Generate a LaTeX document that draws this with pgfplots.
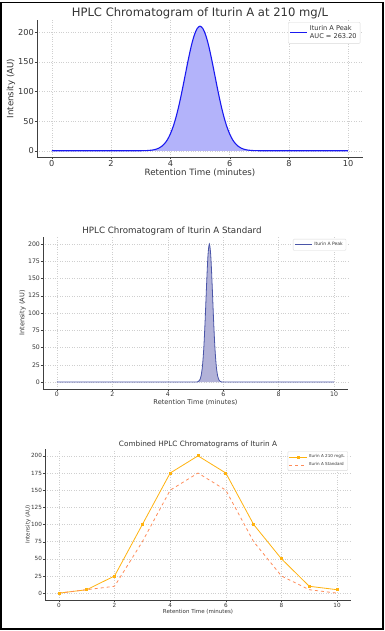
\documentclass[border=0pt]{standalone}
\usepackage{pgfplots}
\pgfplotsset{compat=1.18}
\usepackage{fontspec}
\setmainfont{DejaVu Sans}
\definecolor{gridc}{HTML}{CFCFCF}
\definecolor{txt}{HTML}{333333}
\definecolor{p1line}{HTML}{1A1AF0}
\definecolor{p1fill}{HTML}{B3B3FA}
\definecolor{p2line}{HTML}{4A55A8}
\definecolor{p2fill}{HTML}{B2B2D8}
\definecolor{s1}{HTML}{FFB20F}
\definecolor{s2}{HTML}{FF8C5A}
\pgfplotsset{
  every axis title shift=0pt,
  mpl/.style={
    scale only axis,
    axis lines=left,
    axis line style={-, draw=black!75},
    tick align=outside,
    major tick length=2.2pt,
    tick style={black!75},
    grid=major,
    major grid style={dotted, gridc},
    /pgf/number format/assume math mode=true,
    xmin=-0.5, xmax=10.5,
    xtick={0,2,4,6,8,10},
    ticklabel style={text=txt, inner sep=0.7pt},
    label style={text=txt},
    title style={text=txt},
    legend cell align=left,
    legend style={draw=black!15, fill=white, rounded corners=1pt, text=txt},
  }
}
\begin{document}
\begin{tikzpicture}[x=1pt,y=1pt]
\useasboundingbox (0,0) rectangle (384,631);
\draw[line width=1.2pt] (1,2) rectangle (383,628.5);

% ---------------- Panel 1 ----------------
\begin{axis}[mpl,
  at={(37pt,474pt)}, anchor=south west,
  width=326pt, height=137pt,
  ymin=-10.5, ymax=220.5,
  ytick={0,50,100,150,200},
  ticklabel style={font=\fontsize{8.2}{9}\selectfont},
  xlabel={Retention Time (minutes)},
  ylabel={Intensity (AU)},
  label style={font=\fontsize{8.7}{9.5}\selectfont},
  xlabel style={at={(axis description cs:0.5,-0.112)}, anchor=center},
  ylabel style={at={(axis description cs:-0.080,0.5)}, anchor=center},
  title={HPLC Chromatogram of Iturin A at 210 mg/L},
  title style={font=\fontsize{11.6}{13}\selectfont, at={(axis description cs:0.5,1.051)}, anchor=center},
  legend style={at={(0.992,0.985)}, anchor=north east, font=\fontsize{6.6}{7.6}\selectfont, cells={align=left}, inner sep=1.5pt},
]
\addplot[draw=none, fill=p1fill, forget plot] table {
x y
3.0 0.07
3.1 0.15
3.2 0.32
3.3 0.65
3.4 1.25
3.5 2.33
3.6 4.17
3.7 7.15
3.8 11.79
3.9 18.67
4.0 28.42
4.1 41.56
4.2 58.39
4.3 78.82
4.4 102.22
4.5 127.37
4.6 152.49
4.7 175.41
4.8 193.86
4.9 205.84
5.0 210.00
5.1 205.84
5.2 193.86
5.3 175.41
5.4 152.49
5.5 127.37
5.6 102.22
5.7 78.82
5.8 58.39
5.9 41.56
6.0 28.42
6.1 18.67
6.2 11.79
6.3 7.15
6.4 4.17
6.5 2.33
6.6 1.25
6.7 0.65
6.8 0.32
6.9 0.15
7.0 0.07
} \closedcycle;
\addplot[p1line, line width=1.1pt, smooth] table {
x y
0 0
1 0
2 0
2.9 0.03
3.0 0.07
3.1 0.15
3.2 0.32
3.3 0.65
3.4 1.25
3.5 2.33
3.6 4.17
3.7 7.15
3.8 11.79
3.9 18.67
4.0 28.42
4.1 41.56
4.2 58.39
4.3 78.82
4.4 102.22
4.5 127.37
4.6 152.49
4.7 175.41
4.8 193.86
4.9 205.84
5.0 210.00
5.1 205.84
5.2 193.86
5.3 175.41
5.4 152.49
5.5 127.37
5.6 102.22
5.7 78.82
5.8 58.39
5.9 41.56
6.0 28.42
6.1 18.67
6.2 11.79
6.3 7.15
6.4 4.17
6.5 2.33
6.6 1.25
6.7 0.65
6.8 0.32
6.9 0.15
7.0 0.07
7.1 0.03
8 0
9 0
10 0
};
\addlegendentry{Iturin A Peak\\AUC = 263.20}
\end{axis}

% ---------------- Panel 2 ----------------
\begin{axis}[mpl,
  at={(43pt,242pt)}, anchor=south west,
  width=305pt, height=152pt,
  ymin=-10, ymax=210,
  ytick={0,25,50,75,100,125,150,175,200},
  ticklabel style={font=\fontsize{6.2}{7}\selectfont},
  xlabel={Retention Time (minutes)},
  ylabel={Intensity (AU)},
  label style={font=\fontsize{6.6}{7.5}\selectfont},
  xlabel style={at={(axis description cs:0.5,-0.088)}, anchor=center},
  ylabel style={at={(axis description cs:-0.067,0.5)}, anchor=center},
  title={HPLC Chromatogram of Iturin A Standard},
  title style={font=\fontsize{8.7}{10}\selectfont, at={(axis description cs:0.423,1.040)}, anchor=center},
  legend style={at={(0.994,0.987)}, anchor=north east, font=\fontsize{4.5}{5.5}\selectfont, inner sep=1.2pt},
]
\addplot[draw=none, fill=p2fill, forget plot] table {
x y
5.0 0.03
5.05 0.18
5.1 0.77
5.15 2.84
5.2 8.79
5.25 22.8
5.3 49.9
5.35 91.6
5.4 141.3
5.45 183.4
5.5 200
5.55 183.4
5.6 141.3
5.65 91.6
5.7 49.9
5.75 22.8
5.8 8.79
5.85 2.84
5.9 0.77
5.95 0.18
6.0 0.03
} \closedcycle;
\addplot[p2line, line width=0.8pt, smooth] table {
x y
0 0
2 0
4 0
4.95 0
5.0 0.03
5.05 0.18
5.1 0.77
5.15 2.84
5.2 8.79
5.25 22.8
5.3 49.9
5.35 91.6
5.4 141.3
5.45 183.4
5.5 200
5.55 183.4
5.6 141.3
5.65 91.6
5.7 49.9
5.75 22.8
5.8 8.79
5.85 2.84
5.9 0.77
5.95 0.18
6.0 0.03
6.05 0
8 0
10 0
};
\addlegendentry{Iturin A Peak}
\end{axis}

% ---------------- Panel 3 ----------------
\begin{axis}[mpl,
  at={(45pt,31pt)}, anchor=south west,
  width=306pt, height=151pt,
  ymin=-10, ymax=210,
  ytick={0,25,50,75,100,125,150,175,200},
  ticklabel style={font=\fontsize{5.7}{6.5}\selectfont},
  xlabel={Retention Time (minutes)},
  ylabel={Intensity (AU)},
  label style={font=\fontsize{5.5}{6.5}\selectfont},
  xlabel style={at={(axis description cs:0.5,-0.079)}, anchor=center},
  ylabel style={at={(axis description cs:-0.055,0.5)}, anchor=center},
  title={Combined HPLC Chromatograms of Iturin A},
  title style={font=\fontsize{7.3}{8.5}\selectfont, at={(axis description cs:0.5,1.033)}, anchor=center},
  legend style={at={(0.99,0.985)}, anchor=north east, font=\fontsize{4.1}{5}\selectfont, inner sep=1.2pt, row sep=-0.5pt},
]
\addplot[s1, line width=0.8pt, mark=square*, mark size=1.0pt] coordinates {
(0,0) (1,5) (2,25) (3,100) (4,175) (5,200) (6,175) (7,100) (8,50) (9,10) (10,5)
};
\addlegendentry{Iturin A 210 mg/L}
\addplot[s2, line width=0.8pt, dashed] coordinates {
(0,0) (1,5) (2,10) (3,75) (4,150) (5,175) (6,150) (7,75) (8,25) (9,5) (10,0)
};
\addlegendentry{Iturin A Standard}
\end{axis}
\end{tikzpicture}
\end{document}
